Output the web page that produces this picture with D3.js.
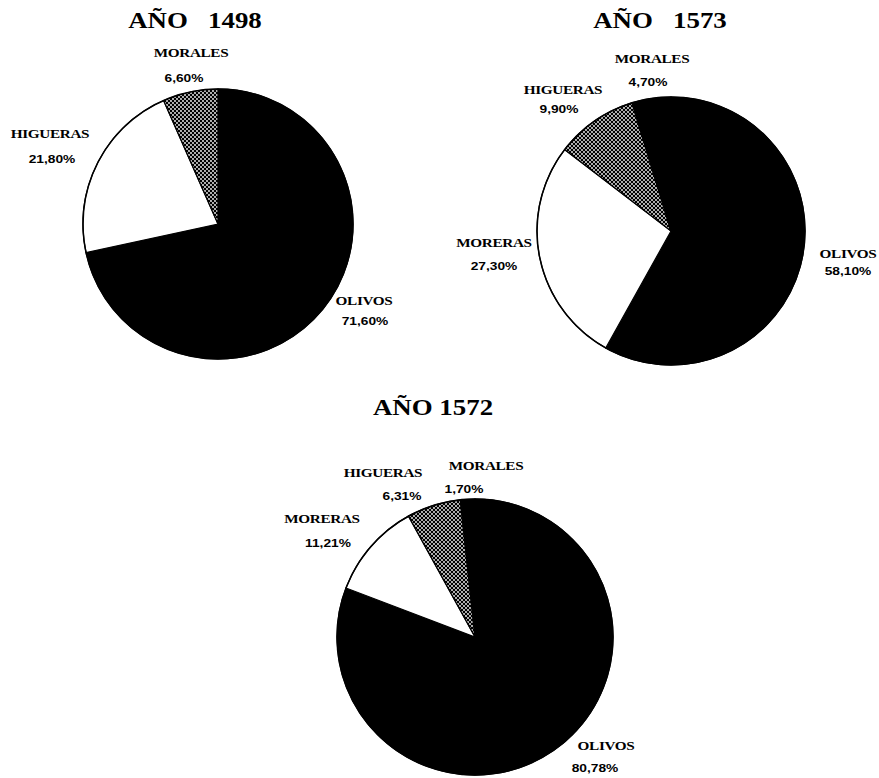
<!DOCTYPE html>
<html>
<head>
<meta charset="utf-8">
<script src="https://cdn.jsdelivr.net/npm/d3@7"></script>
<style>
  body { margin: 0; background: #fff; }
  svg { display: block; }
</style>
</head>
<body>
<div id="chart"></div>
<script>
// data
const categories1498 = ["OLIVOS", "HIGUERAS", "MORALES"];
const values1498 = [71.60, 21.80, 6.60];

const categories1573 = ["OLIVOS", "MORERAS", "HIGUERAS", "MORALES"];
const values1573 = [58.10, 27.30, 9.90, 4.70];

const categories1572 = ["OLIVOS", "MORERAS", "HIGUERAS", "MORALES"];
const values1572 = [80.78, 11.21, 6.31, 1.70];

const titles = ["AÑO   1498", "AÑO   1573", "AÑO 1572"];

const width = 879;
const height = 778;

// layout: centre, radius, title and label anchors for each pie
const layout = [
    {cx: 218, cy: 224, r: 135, title: [195, 28],
     names: [[364, 305], [50, 138], [191, 57]],
     pcts:  [[365, 325], [52, 163], [184, 82]]},
    {cx: 671, cy: 231, r: 134, title: [660, 28],
     names: [[848, 258], [494, 247], [563, 94], [652, 63]],
     pcts:  [[848, 275], [494, 270], [559, 113], [648, 86]]},
    {cx: 475, cy: 637, r: 138, title: [433, 415],
     names: [[606, 750], [322, 523], [383, 477], [486, 470]],
     pcts:  [[595, 772], [328, 547], [402, 500], [464, 493]]}
];

const charts = [
    {cats: categories1498, vals: values1498},
    {cats: categories1573, vals: values1573},
    {cats: categories1572, vals: values1572}
];

const fills = ["#000", "#fff", "url(#dots)", "#000"];
const fmtPct = (v) => d3.format(".2f")(v).replace(".", ",") + "%";

const svg = d3.select("#chart")
    .append("svg")
        .attr("width", width)
        .attr("height", height);

// dotted grey fill
const pat = svg.append("defs").append("pattern")
    .attr("id", "dots")
    .attr("patternUnits", "userSpaceOnUse")
    .attr("width", 4)
    .attr("height", 4);
pat.append("rect").attr("width", 4).attr("height", 4).attr("fill", "#000");
pat.append("circle").attr("cx", 1).attr("cy", 1).attr("r", 0.9).attr("fill", "#fff");
pat.append("circle").attr("cx", 3).attr("cy", 3).attr("r", 0.9).attr("fill", "#fff");

const pie = d3.pie().sort(null).value((d) => d);

charts.forEach((c, i) => {
    const L = layout[i];
    const arc = d3.arc().innerRadius(0).outerRadius(L.r);

    const g = svg.append("g")
        .attr("transform", `translate(${L.cx},${L.cy})`);

    g.selectAll("path")
        .data(pie(c.vals))
        .join("path")
            .attr("d", arc)
            .attr("fill", (d, j) => fills[j])
            .attr("stroke", "#000")
            .attr("stroke-width", 1.2);

    g.append("circle")
        .attr("r", L.r)
        .attr("fill", "none")
        .attr("stroke", "#000")
        .attr("stroke-width", 1.5);

    // title
    svg.append("g")
        .attr("transform", `translate(${L.title[0]},${L.title[1]}) scale(1.12,1)`)
      .append("text")
        .attr("text-anchor", "middle")
        .style("white-space", "pre")
        .attr("font-family", "Liberation Serif, Times New Roman, serif")
        .attr("font-weight", "bold")
        .attr("font-size", 24)
        .text(titles[i]);

    // labels
    c.cats.forEach((name, j) => {
        svg.append("g")
            .attr("transform", `translate(${L.names[j][0]},${L.names[j][1]}) scale(1.22,1)`)
          .append("text")
            .attr("text-anchor", "middle")
            .attr("font-family", "Liberation Serif, Times New Roman, serif")
            .attr("font-weight", "bold")
            .attr("font-size", 12.5)
            .attr("letter-spacing", -0.3)
            .text(name);
        svg.append("g")
            .attr("transform", `translate(${L.pcts[j][0]},${L.pcts[j][1]}) scale(1.25,1)`)
          .append("text")
            .attr("text-anchor", "middle")
            .attr("font-family", "Liberation Sans, Arial, sans-serif")
            .attr("font-weight", "bold")
            .attr("font-size", 11)
            .text(fmtPct(c.vals[j]));
    });
});
</script>
</body>
</html>
